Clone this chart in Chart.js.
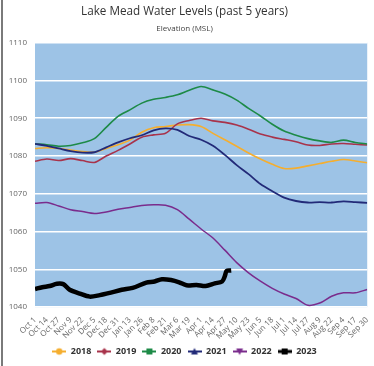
<!DOCTYPE html>
<html>
<head>
<meta charset="utf-8">
<script src="https://cdn.jsdelivr.net/npm/chart.js@4.4.0/dist/chart.umd.min.js"></script>
<style>
  body { margin: 0; background: #fff; }
  #wrap { position: relative; width: 374px; height: 366px; }
  #edge { position: absolute; left: 1px; top: 0; width: 2px; height: 366px; background: #7a7a7a; }
</style>
</head>
<body>
<div id="wrap">
  <canvas id="levelsChart" width="374" height="366"></canvas>
  <div id="edge"></div>
</div>
<script>
// water year tick labels, 13 days apart
var tickLabels = ['Oct 1', 'Oct 14', 'Oct 27', 'Nov 9', 'Nov 22', 'Dec 5', 'Dec 18', 'Dec 31',
  'Jan 13', 'Jan 26', 'Feb 8', 'Feb 21', 'Mar 6', 'Mar 19', 'Apr 1', 'Apr 14', 'Apr 27',
  'May 10', 'May 23', 'Jun 5', 'Jun 18', 'Jul 1', 'Jul 14', 'Jul 27', 'Aug 9', 'Aug 22',
  'Sep 4', 'Sep 17', 'Sep 30'];
var tickDays = [0, 13, 26, 39, 52, 65, 78, 91, 104, 117, 130, 143, 156, 169, 182, 195, 208,
  221, 234, 247, 260, 273, 286, 299, 312, 325, 338, 351, 364];

var level2018 = [1082, 1082.2, 1082, 1081.6, 1081.2, 1081, 1082, 1083, 1084.2, 1086.3, 1087.5,
  1087.8, 1088.2, 1088.3, 1087.8, 1086, 1084.3, 1082.6, 1080.8, 1079.2, 1077.8, 1076.7, 1076.8,
  1077.4, 1078, 1078.6, 1079.1, 1078.7, 1078.2];
var level2019 = [1078.6, 1079.2, 1078.8, 1079.3, 1078.8, 1078.3, 1080, 1081.5, 1083.2, 1085,
  1085.6, 1086, 1088.5, 1089.4, 1090, 1089.3, 1088.9, 1088.2, 1087.1, 1085.8, 1085, 1084.4, 1083.8,
  1082.9, 1082.8, 1083.2, 1083.3, 1083.1, 1082.9];
var level2020 = [1083.2, 1083, 1082.6, 1082.8, 1083.5, 1084.6, 1087.6, 1090.5, 1092.2, 1094, 1095,
  1095.5, 1096.2, 1097.4, 1098.4, 1097.5, 1096.4, 1094.8, 1092.6, 1090.6, 1088.4, 1086.6, 1085.5,
  1084.6, 1084, 1083.6, 1084.2, 1083.6, 1083.2];
var level2021 = [1083.2, 1082.7, 1082, 1081.3, 1080.9, 1081, 1082.3, 1083.6, 1084.7, 1085.5,
  1086.8, 1087.3, 1086.9, 1085.3, 1084.3, 1082.7, 1080.3, 1077.6, 1075.2, 1072.6, 1070.7, 1069,
  1068.1, 1067.7, 1067.8, 1067.7, 1068, 1067.8, 1067.6];
var level2022 = [1067.5, 1067.7, 1066.8, 1065.8, 1065.3, 1064.8, 1065.2, 1065.9, 1066.4, 1066.9,
  1067.1, 1067, 1065.8, 1063.3, 1060.7, 1058.3, 1055.1, 1051.8, 1049.1, 1046.9, 1045, 1043.5,
  1042.3, 1040.5, 1041.1, 1042.9, 1043.8, 1043.8, 1044.7];

// 2023 runs only to early May, read at its own days
var days2023 = [0, 8, 16, 24, 31, 38, 49, 60, 71, 82, 95, 107, 122, 131, 139, 149, 158, 166, 177,
  187, 197, 205, 208, 210, 215];
var level2023 = [1044.8, 1045.3, 1045.6, 1046.2, 1046.1, 1044.6, 1043.6, 1042.8, 1043.2, 1043.8,
  1044.6, 1045.1, 1046.5, 1046.8, 1047.4, 1047.2, 1046.6, 1045.8, 1045.9, 1045.6, 1046.3, 1046.8,
  1048.2, 1049.6, 1049.7];

function toPoints(xs, ys) {
  return ys.map(function (y, i) {
    return { x: xs[i], y: y };
  });
}

// little line + marker icon for the legend
function legendIcon(color, shape, lineWidth) {
  var c = document.createElement('canvas');
  c.width = 14;
  c.height = 10;
  var g = c.getContext('2d');
  g.strokeStyle = color;
  g.fillStyle = color;
  g.lineWidth = lineWidth;
  g.beginPath();
  g.moveTo(0, 5);
  g.lineTo(14, 5);
  g.stroke();
  g.beginPath();
  if (shape === 'circle') {
    g.arc(7, 5, 3.2, 0, Math.PI * 2);
  } else if (shape === 'diamond') {
    g.moveTo(7, 1.5); g.lineTo(10.5, 5); g.lineTo(7, 8.5); g.lineTo(3.5, 5);
  } else if (shape === 'square') {
    g.rect(4, 2, 6, 6);
  } else if (shape === 'triangle') {
    g.moveTo(7, 1.5); g.lineTo(10.5, 8); g.lineTo(3.5, 8);
  } else if (shape === 'triangleDown') {
    g.moveTo(3.5, 2); g.lineTo(10.5, 2); g.lineTo(7, 8.5);
  }
  g.closePath();
  g.fill();
  return c;
}

var plotBackground = {
  id: 'plotBackground',
  beforeDraw: function (chart) {
    var a = chart.chartArea;
    var ctx = chart.ctx;
    ctx.save();
    ctx.fillStyle = '#9dc3e6';
    ctx.fillRect(a.left, a.top, a.right - a.left, a.bottom - a.top);
    ctx.restore();
  },
};

function makeSeries(label, xs, ys, color, width, shape, order) {
  return {
    label: label,
    data: toPoints(xs, ys),
    borderColor: color,
    backgroundColor: color,
    borderWidth: width,
    pointRadius: 0,
    tension: 0.3,
    order: order,
    icon: legendIcon(color, shape, width > 3 ? 3 : 2),
  };
}

var ctx = document.getElementById('levelsChart').getContext('2d');
new Chart(ctx, {
  type: 'line',
  data: {
    datasets: [
      makeSeries('2018', tickDays, level2018, '#f5ae2f', 1.6, 'circle', 6),
      makeSeries('2019', tickDays, level2019, '#a8334b', 1.6, 'diamond', 5),
      makeSeries('2020', tickDays, level2020, '#1d8a47', 1.6, 'square', 4),
      makeSeries('2021', tickDays, level2021, '#222a78', 1.8, 'triangle', 3),
      makeSeries('2022', tickDays, level2022, '#7a2c8c', 1.5, 'triangleDown', 2),
      makeSeries('2023', days2023, level2023, '#000000', 4.5, 'square', 1),
    ],
  },
  options: {
    responsive: false,
    animation: false,
    layout: { padding: { left: 0, right: 5, top: 2, bottom: 0 } },
    plugins: {
      title: {
        display: true,
        text: 'Lake Mead Water Levels (past 5 years)',
        color: '#333',
        font: { family: 'Open Sans', size: 11.7, weight: 'normal' },
        padding: { top: 3, bottom: 5 },
      },
      subtitle: {
        display: true,
        text: 'Elevation (MSL)',
        color: '#444',
        font: { family: 'Open Sans', size: 8 },
        padding: { top: 0, bottom: 9 },
      },
      legend: {
        position: 'bottom',
        labels: {
          usePointStyle: true,
          pointStyleWidth: 14,
          padding: 6,
          color: '#333',
          font: { family: 'Open Sans', size: 9, weight: 'bold' },
          generateLabels: function (chart) {
            return chart.data.datasets.map(function (ds, i) {
              return {
                text: ds.label,
                pointStyle: ds.icon,
                fillStyle: ds.borderColor,
                strokeStyle: ds.borderColor,
                lineWidth: 0,
                fontColor: '#333',
                hidden: !chart.isDatasetVisible(i),
                datasetIndex: i,
              };
            });
          },
        },
      },
      tooltip: { enabled: false },
    },
    scales: {
      x: {
        type: 'linear',
        min: 0,
        max: 364,
        grid: { display: false },
        border: { display: false },
        ticks: {
          stepSize: 13,
          autoSkip: false,
          maxRotation: 45,
          minRotation: 45,
          padding: 0,
          color: '#666',
          font: { family: 'Open Sans', size: 8 },
          callback: function (value) {
            return tickLabels[Math.round(value / 13)];
          },
        },
      },
      y: {
        min: 1040,
        max: 1110,
        grid: { color: '#ffffff', lineWidth: 1.5, drawTicks: false },
        border: { display: false },
        ticks: {
          stepSize: 10,
          padding: 8,
          color: '#666',
          font: { family: 'Open Sans', size: 8 },
          callback: function (value) {
            return String(value);
          },
        },
        afterFit: function (scale) {
          scale.width = 35;
        },
      },
    },
  },
  plugins: [plotBackground],
});
</script>
</body>
</html>
